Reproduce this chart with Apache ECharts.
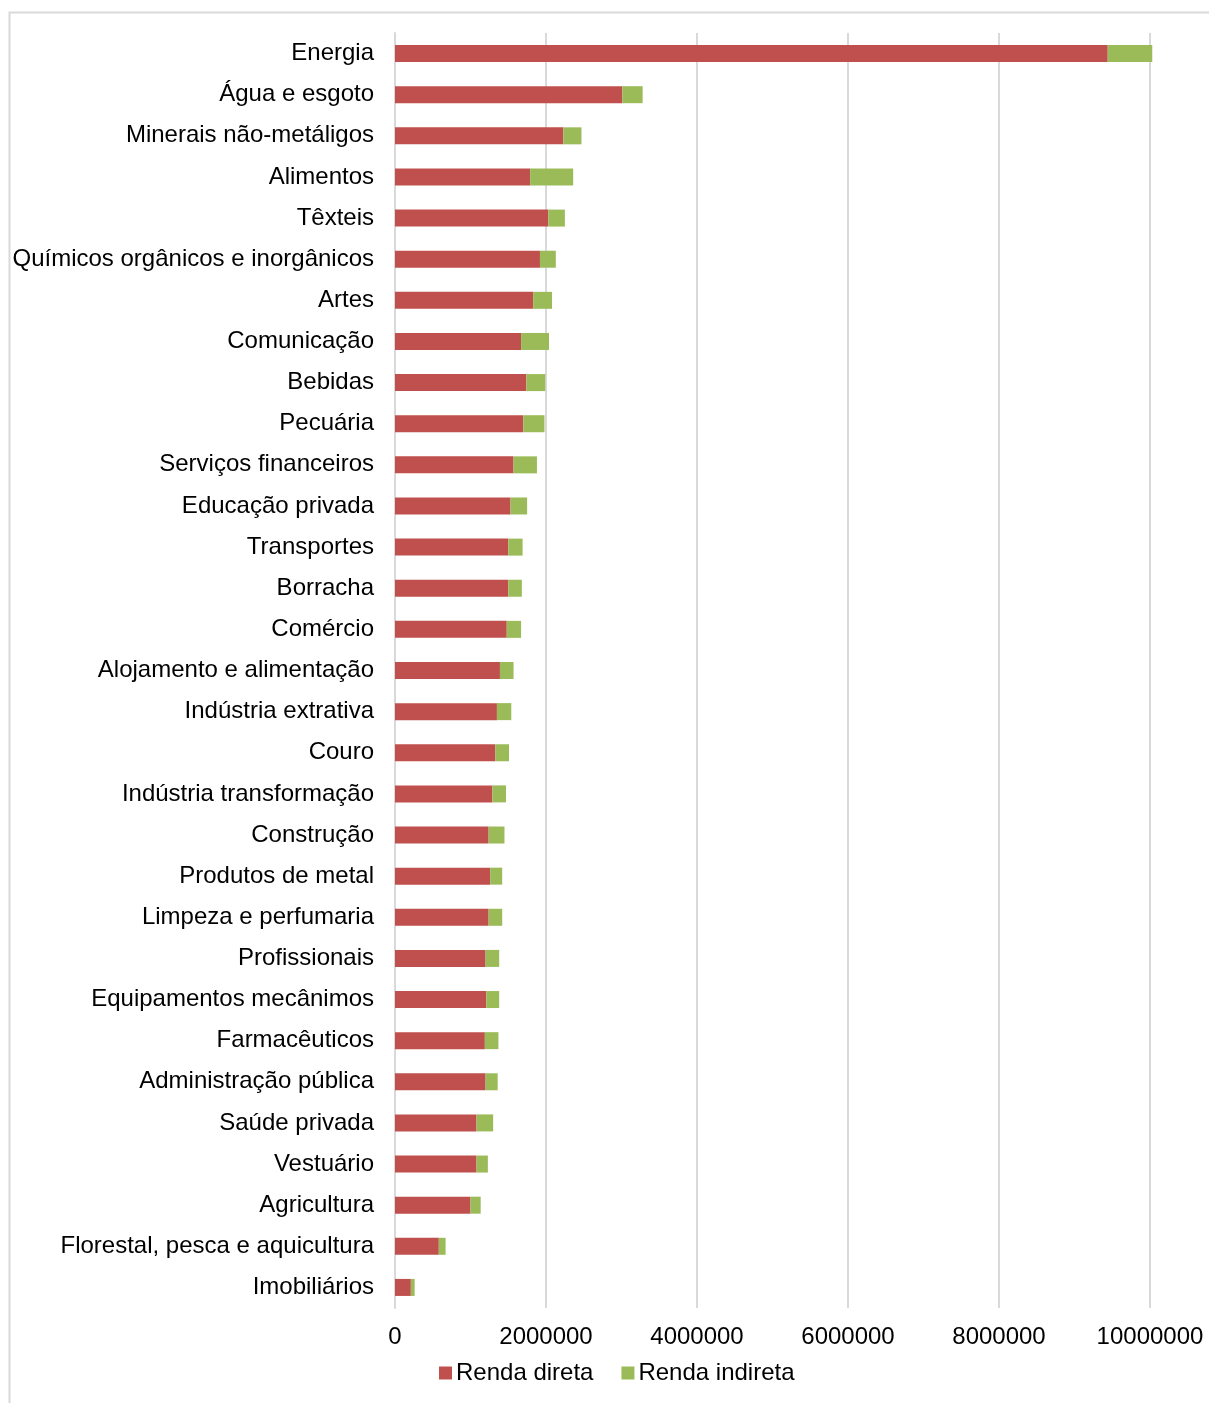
<!DOCTYPE html>
<html>
<head>
<meta charset="utf-8">
<script src="https://cdn.jsdelivr.net/npm/echarts@6/dist/echarts.min.js"></script>
<style>
  html, body { margin: 0; padding: 0; background: #ffffff; }
  #chart { width: 1209px; height: 1403px; }
</style>
</head>
<body>
<div id="chart"></div>
<script>
// Setores (de cima para baixo)
const setores = [
  'Energia', 'Água e esgoto', 'Minerais não-metáligos', 'Alimentos', 'Têxteis',
  'Químicos orgânicos e inorgânicos', 'Artes', 'Comunicação', 'Bebidas', 'Pecuária',
  'Serviços financeiros', 'Educação privada', 'Transportes', 'Borracha', 'Comércio',
  'Alojamento e alimentação', 'Indústria extrativa', 'Couro', 'Indústria transformação',
  'Construção', 'Produtos de metal', 'Limpeza e perfumaria', 'Profissionais',
  'Equipamentos mecânimos', 'Farmacêuticos', 'Administração pública', 'Saúde privada',
  'Vestuário', 'Agricultura', 'Florestal, pesca e aquicultura', 'Imobiliários'
];

const rendaDireta = [
  9440000, 3010000, 2230000, 1790000, 2030000,
  1920000, 1830000, 1670000, 1740000, 1700000,
  1570000, 1530000, 1500000, 1500000, 1480000,
  1390000, 1350000, 1330000, 1290000,
  1240000, 1260000, 1240000, 1200000,
  1210000, 1190000, 1200000, 1080000,
  1080000, 1000000, 580000, 210000
];

const rendaIndireta = [
  590000, 270000, 240000, 570000, 220000,
  210000, 250000, 370000, 250000, 280000,
  310000, 220000, 190000, 180000, 190000,
  180000, 190000, 180000, 180000,
  210000, 160000, 180000, 180000,
  170000, 180000, 160000, 220000,
  150000, 135000, 90000, 50000
];

const ticks = [0, 2000000, 4000000, 6000000, 8000000, 10000000];

const fonte = '"Liberation Sans", Arial, sans-serif';
const chart = echarts.init(document.getElementById('chart'), null, { renderer: 'canvas' });

chart.setOption({
  backgroundColor: '#ffffff',
  animation: false,
  graphic: [{
    type: 'rect',
    shape: { x: 9.5, y: 12.5, width: 1400, height: 1500 },
    style: { fill: 'none', stroke: '#d9d9d9', lineWidth: 2 },
    silent: true
  }],
  grid: { left: 395, right: 59, top: 33, bottom: 95, containLabel: false },
  legend: {
    left: 434, top: 1356,
    itemWidth: 13, itemHeight: 13, itemGap: 28,
    icon: 'rect',
    textStyle: { fontFamily: fonte, fontSize: 24, color: '#000000', padding: [0, 0, 0, -1] },
    data: ['Renda direta', 'Renda indireta']
  },
  xAxis: {
    type: 'value',
    min: ticks[0], max: ticks[ticks.length - 1], interval: 2000000,
    axisLine: { show: false },
    axisTick: { show: false },
    splitLine: { show: true, lineStyle: { color: '#d9d9d9', width: 2 } },
    axisLabel: {
      fontFamily: fonte, fontSize: 24, color: '#000000', margin: 17,
      formatter: v => String(v)
    }
  },
  yAxis: {
    type: 'category',
    inverse: true,
    data: setores,
    axisLine: { show: true, lineStyle: { color: '#d9d9d9', width: 2 } },
    axisTick: { show: false },
    axisLabel: {
      fontFamily: fonte, fontSize: 24, color: '#000000', margin: 21,
      padding: [4, 0, 0, 0]
    }
  },
  series: [
    {
      name: 'Renda direta', type: 'bar', stack: 'renda',
      barWidth: 17, clip: false,
      itemStyle: { color: '#c0504d' },
      data: rendaDireta
    },
    {
      name: 'Renda indireta', type: 'bar', stack: 'renda',
      barWidth: 17, clip: false,
      itemStyle: { color: '#9bbb59' },
      data: rendaIndireta
    }
  ]
});
</script>
</body>
</html>
